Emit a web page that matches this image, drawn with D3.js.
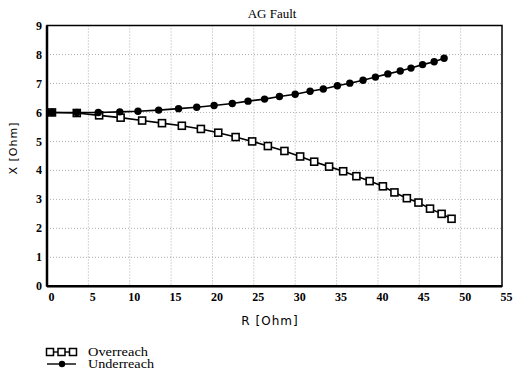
<!DOCTYPE html>
<html>
<head>
<meta charset="utf-8">
<script src="https://cdn.jsdelivr.net/npm/d3@7"></script>
<style>
  body { margin: 0; background: #fff; }
  .tick text { font-family: "Liberation Serif", serif; font-weight: bold; font-size: 12px; }
</style>
</head>
<body>
<script>
// chart size
var w = 515;
var h = 370;

// data
var overR = [0.6, 3.6, 6.3, 8.9, 11.5, 13.9, 16.3, 18.6, 20.7, 22.8, 24.8, 26.7, 28.7, 30.6, 32.3, 34.1, 35.8, 37.4, 39.0, 40.6, 42.0, 43.5, 44.9, 46.3, 47.7, 48.9];
var overX = [6.0, 5.98, 5.9, 5.82, 5.72, 5.63, 5.54, 5.43, 5.3, 5.15, 5.0, 4.84, 4.67, 4.48, 4.3, 4.13, 3.97, 3.8, 3.63, 3.45, 3.24, 3.04, 2.89, 2.68, 2.5, 2.33];
var underR = [0.6, 3.6, 6.2, 8.8, 11.0, 13.5, 15.9, 18.1, 20.2, 22.4, 24.3, 26.3, 28.1, 30.0, 31.8, 33.4, 35.1, 36.6, 38.2, 39.7, 41.2, 42.7, 44.0, 45.4, 46.8, 48.0];
var underX = [6.0, 6.0, 6.0, 6.02, 6.04, 6.08, 6.13, 6.18, 6.24, 6.31, 6.39, 6.46, 6.55, 6.63, 6.73, 6.81, 6.92, 7.01, 7.11, 7.22, 7.33, 7.43, 7.53, 7.65, 7.75, 7.87];
var xTicks = [0, 5, 10, 15, 20, 25, 30, 35, 40, 45, 50, 55];
var yTicks = [0, 1, 2, 3, 4, 5, 6, 7, 8, 9];
var seriesNames = ["Overreach", "Underreach"];

// plot box (window.top is taken, so own names)
var pLeft = 47, pRight = 502, pTop = 25.5, pBottom = 286.3;

var svg = d3.select("body")
  .append("svg")
  .attr("width", w)
  .attr("height", h);

var x = d3.scaleLinear().domain([0, 55]).range([pLeft, pRight]);
var y = d3.scaleLinear().domain([0, 9]).range([pBottom, pTop]);

// grid
svg.append("g").selectAll("line")
  .data(xTicks.slice(1, -1)).enter()
  .append("line")
  .attr("x1", function(d) { return x(d); })
  .attr("x2", function(d) { return x(d); })
  .attr("y1", pTop)
  .attr("y2", pBottom)
  .style("stroke", "#999")
  .style("stroke-width", 0.8)
  .style("stroke-dasharray", "1,2");

svg.append("g").selectAll("line")
  .data(yTicks.slice(1, -1)).enter()
  .append("line")
  .attr("x1", pLeft)
  .attr("x2", pRight)
  .attr("y1", function(d) { return y(d); })
  .attr("y2", function(d) { return y(d); })
  .style("stroke", "#999")
  .style("stroke-width", 0.8)
  .style("stroke-dasharray", "1,2");

// axes
var xAxis = svg.append("g")
  .attr("transform", "translate(0," + pBottom + ")")
  .call(d3.axisBottom(x).tickValues(xTicks).tickSize(0).tickPadding(6));
xAxis.select(".domain").remove();
xAxis.selectAll("text").attr("dx", 4);

var yAxis = svg.append("g")
  .attr("transform", "translate(" + pLeft + ",0)")
  .call(d3.axisLeft(y).tickValues(yTicks).tickSize(0).tickPadding(5));
yAxis.select(".domain").remove();
yAxis.selectAll("text").attr("dy", "0.3em");

// frame
svg.append("rect")
  .attr("x", pLeft).attr("y", pTop)
  .attr("width", pRight - pLeft).attr("height", pBottom - pTop)
  .style("fill", "none")
  .style("stroke", "#000")
  .style("stroke-width", 1.5);
svg.append("line")
  .attr("x1", pLeft).attr("x2", pLeft).attr("y1", pTop).attr("y2", pBottom)
  .style("stroke", "#000").style("stroke-width", 2.5);
svg.append("line")
  .attr("x1", pLeft).attr("x2", pRight).attr("y1", pBottom).attr("y2", pBottom)
  .style("stroke", "#000").style("stroke-width", 2.5);

var line = d3.line()
  .x(function(d) { return x(d[0]); })
  .y(function(d) { return y(d[1]); });

var over = d3.zip(overR, overX);
var under = d3.zip(underR, underX);

svg.append("path").datum(under).attr("d", line)
  .style("fill", "none").style("stroke", "#000").style("stroke-width", 1.6);
svg.append("path").datum(over).attr("d", line)
  .style("fill", "none").style("stroke", "#000").style("stroke-width", 1.6);

// squares first, dots on top (the first points overlap)
svg.selectAll(".over")
  .data(over).enter()
  .append("rect")
  .attr("class", "over")
  .attr("x", function(d) { return x(d[0]) - 3.5; })
  .attr("y", function(d) { return y(d[1]) - 3.5; })
  .attr("width", 7)
  .attr("height", 7)
  .style("fill", "#fff")
  .style("stroke", "#000")
  .style("stroke-width", 1.6);

svg.selectAll(".under")
  .data(under).enter()
  .append("circle")
  .attr("class", "under")
  .attr("cx", function(d) { return x(d[0]); })
  .attr("cy", function(d) { return y(d[1]); })
  .attr("r", 3.7)
  .style("fill", "#000");

// titles
svg.append("text")
  .attr("x", 272).attr("y", 18)
  .attr("text-anchor", "middle")
  .style("font-family", "Liberation Serif, serif")
  .style("font-size", "13px")
  .text("AG Fault");

svg.append("text")
  .attr("x", 270).attr("y", 325)
  .attr("text-anchor", "middle")
  .style("font-family", "DejaVu Sans, sans-serif")
  .style("font-size", "12px")
  .style("letter-spacing", "1px")
  .text("R [Ohm]");

svg.append("text")
  .attr("transform", "translate(17,148) rotate(-90)")
  .attr("text-anchor", "middle")
  .style("font-family", "DejaVu Sans, sans-serif")
  .style("font-size", "11px")
  .style("letter-spacing", "1px")
  .text("X [Ohm]");

// legend
var leg = svg.append("g");
var legY = [352, 364];
leg.selectAll("line")
  .data(seriesNames).enter()
  .append("line")
  .attr("x1", 47).attr("x2", 76)
  .attr("y1", function(d, i) { return legY[i]; })
  .attr("y2", function(d, i) { return legY[i]; })
  .style("stroke", "#000").style("stroke-width", 1.4);
leg.selectAll("rect")
  .data([50, 61.5, 73]).enter()
  .append("rect")
  .attr("x", function(d) { return d - 3.5; })
  .attr("y", legY[0] - 3.5)
  .attr("width", 7).attr("height", 7)
  .style("fill", "#fff").style("stroke", "#000").style("stroke-width", 1.5);
leg.append("circle")
  .attr("cx", 62).attr("cy", legY[1]).attr("r", 3.2)
  .style("fill", "#000");
leg.selectAll("text")
  .data(seriesNames).enter()
  .append("text")
  .attr("x", 88)
  .attr("y", function(d, i) { return legY[i] + 4; })
  .style("font-family", "Liberation Serif, serif")
  .style("font-size", "11.5px")
  .attr("textLength", function(d, i) { return [60, 66][i]; })
  .attr("lengthAdjust", "spacingAndGlyphs")
  .text(function(d) { return d; });
</script>
</body>
</html>
